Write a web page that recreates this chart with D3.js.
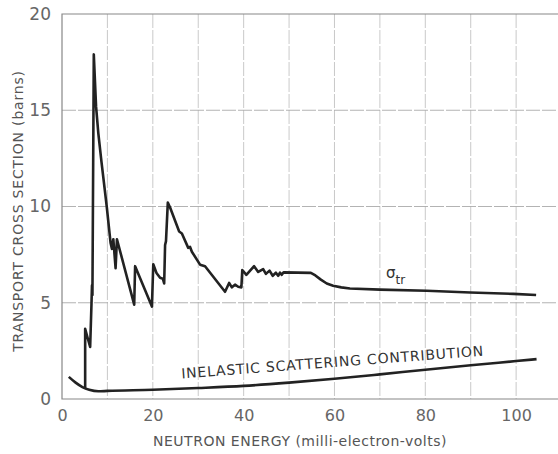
<!DOCTYPE html>
<html>
<head>
<meta charset="utf-8">
<script src="https://cdn.jsdelivr.net/npm/d3@7"></script>
<style>
  body { margin: 0; background: #fff; }
  svg { display: block; }
  .tick text { font-family: "DejaVu Sans", sans-serif; fill: #666; }
  .lbl { font-family: "DejaVu Sans", sans-serif; fill: #555; }
</style>
</head>
<body>
<svg id="chart" width="558" height="454"></svg>
<script>
'use strict';

// transport cross section (sigma_tr), energy in meV, value in barns
const trEnergy = [5.1, 5.1, 5.5, 6.2, 6.5, 6.6, 6.7, 7.0, 7.5, 8.0, 8.7, 9.85, 10.7, 11.0, 11.3, 11.8, 12.1,
  15.9, 16.1, 19.8, 20.1, 20.8, 21.6, 22.2, 22.5, 22.7, 22.9, 23.3, 23.8, 25.8, 26.4, 27.8, 28.2, 28.6,
  30.4, 31.5, 35.9, 36.8, 37.4, 38.1, 38.8, 39.5, 39.7, 40.6, 42.3, 43.2, 44.3, 44.9, 45.7, 46.4, 47.1,
  47.6, 48.0, 48.4, 48.8, 54.8, 55.8, 57.0, 58.3, 59.7, 61.5, 63.4, 70, 80.3, 89.9, 99.4, 104.4];
const trValue = [0.56, 3.65, 3.3, 2.7, 5.0, 5.9, 5.4, 17.9, 15.2, 13.8, 12.3, 10.0, 8.1, 7.8, 8.3, 6.8, 8.3,
  4.9, 6.9, 4.8, 7.0, 6.55, 6.3, 6.25, 6.0, 8.0, 8.2, 10.2, 9.95, 8.7, 8.6, 7.85, 7.9, 7.65,
  6.98, 6.9, 5.57, 6.03, 5.8, 5.94, 5.83, 5.8, 6.7, 6.45, 6.9, 6.6, 6.75, 6.5, 6.67, 6.4, 6.56,
  6.4, 6.56, 6.45, 6.58, 6.55, 6.42, 6.2, 6.0, 5.88, 5.8, 5.74, 5.68, 5.62, 5.53, 5.46, 5.4];

// inelastic scattering contribution
const inEnergy = [1.5, 3, 4.5, 6, 8, 10, 20, 30, 40, 50, 60, 70, 80, 90, 100, 104.5];
const inValue = [1.15, 0.85, 0.62, 0.48, 0.4, 0.42, 0.48, 0.57, 0.68, 0.85, 1.05, 1.28, 1.52, 1.75, 1.97, 2.07];

const xTicks = [0, 20, 40, 60, 80, 100];
const yTicks = [0, 5, 10, 15, 20];
const xGrid = [10, 20, 30, 40, 50, 60, 70, 80, 90, 100];
const yGrid = [5, 10, 15];

const svg = d3.select("#chart");

const x = d3.scaleLinear().domain([0, 109]).range([62, 557]);
const y = d3.scaleLinear().domain([0, 20]).range([399, 14]);

// grid
svg.append("g").selectAll("line")
  .data(xGrid)
  .enter().append("line")
    .attr("x1", d => x(d)).attr("x2", d => x(d))
    .attr("y1", y(20)).attr("y2", y(0))
    .style("stroke", "#bbb").style("stroke-width", 0.8)
    .style("stroke-dasharray", "14,2");

svg.append("g").selectAll("line")
  .data(yGrid)
  .enter().append("line")
    .attr("x1", x(0)).attr("x2", 558)
    .attr("y1", d => y(d)).attr("y2", d => y(d))
    .style("stroke", "#aaa").style("stroke-width", 0.9)
    .style("stroke-dasharray", "14,2");

// frame: left, top, bottom
svg.append("path")
  .attr("d", `M558,${y(20)}H${x(0)}V${y(0)}H558`)
  .style("fill", "none").style("stroke", "#888").style("stroke-width", 1.2);

// axes
const xAxis = svg.append("g")
  .attr("transform", `translate(0,${y(0) + 8})`)
  .call(d3.axisBottom(x).tickValues(xTicks).tickSize(0).tickFormat(d3.format("d")));
xAxis.select(".domain").remove();
xAxis.selectAll("text").style("font-size", "16px");

const yAxis = svg.append("g")
  .attr("transform", `translate(${x(0) - 8},0)`)
  .call(d3.axisLeft(y).tickValues(yTicks).tickSize(0).tickFormat(d3.format("d")));
yAxis.select(".domain").remove();
yAxis.selectAll("text").style("font-size", "17px");

// curves
const line = d3.line()
  .x(d => x(d[0]))
  .y(d => y(d[1]));

svg.append("path")
  .datum(d3.zip(trEnergy, trValue))
  .attr("d", line)
  .style("fill", "none").style("stroke", "#222").style("stroke-width", 2.6)
  .style("stroke-linejoin", "round");

svg.append("path")
  .datum(d3.zip(inEnergy, inValue))
  .attr("d", line.curve(d3.curveMonotoneX))
  .style("fill", "none").style("stroke", "#222").style("stroke-width", 2.6);

// labels
svg.append("text")
  .attr("class", "lbl")
  .attr("transform", "translate(23,211) rotate(-90)")
  .attr("text-anchor", "middle")
  .style("font-size", "14px").style("letter-spacing", "0.8px")
  .text("TRANSPORT CROSS SECTION (barns)");

svg.append("text")
  .attr("class", "lbl")
  .attr("x", 300).attr("y", 446)
  .attr("text-anchor", "middle")
  .style("font-size", "14px").style("letter-spacing", "0.5px")
  .text("NEUTRON ENERGY (milli-electron-volts)");

svg.append("text")
  .attr("class", "lbl")
  .attr("transform", "translate(333,367) rotate(-4.3)")
  .attr("text-anchor", "middle")
  .style("font-size", "14px").style("letter-spacing", "0.8px").style("fill", "#333")
  .text("INELASTIC SCATTERING CONTRIBUTION");

const sig = svg.append("text")
  .attr("class", "lbl")
  .attr("x", 386).attr("y", 278)
  .style("font-size", "15px").style("fill", "#333");
sig.append("tspan").text("σ");
sig.append("tspan").attr("dy", 6).style("font-size", "12px").text("tr");
</script>
</body>
</html>
